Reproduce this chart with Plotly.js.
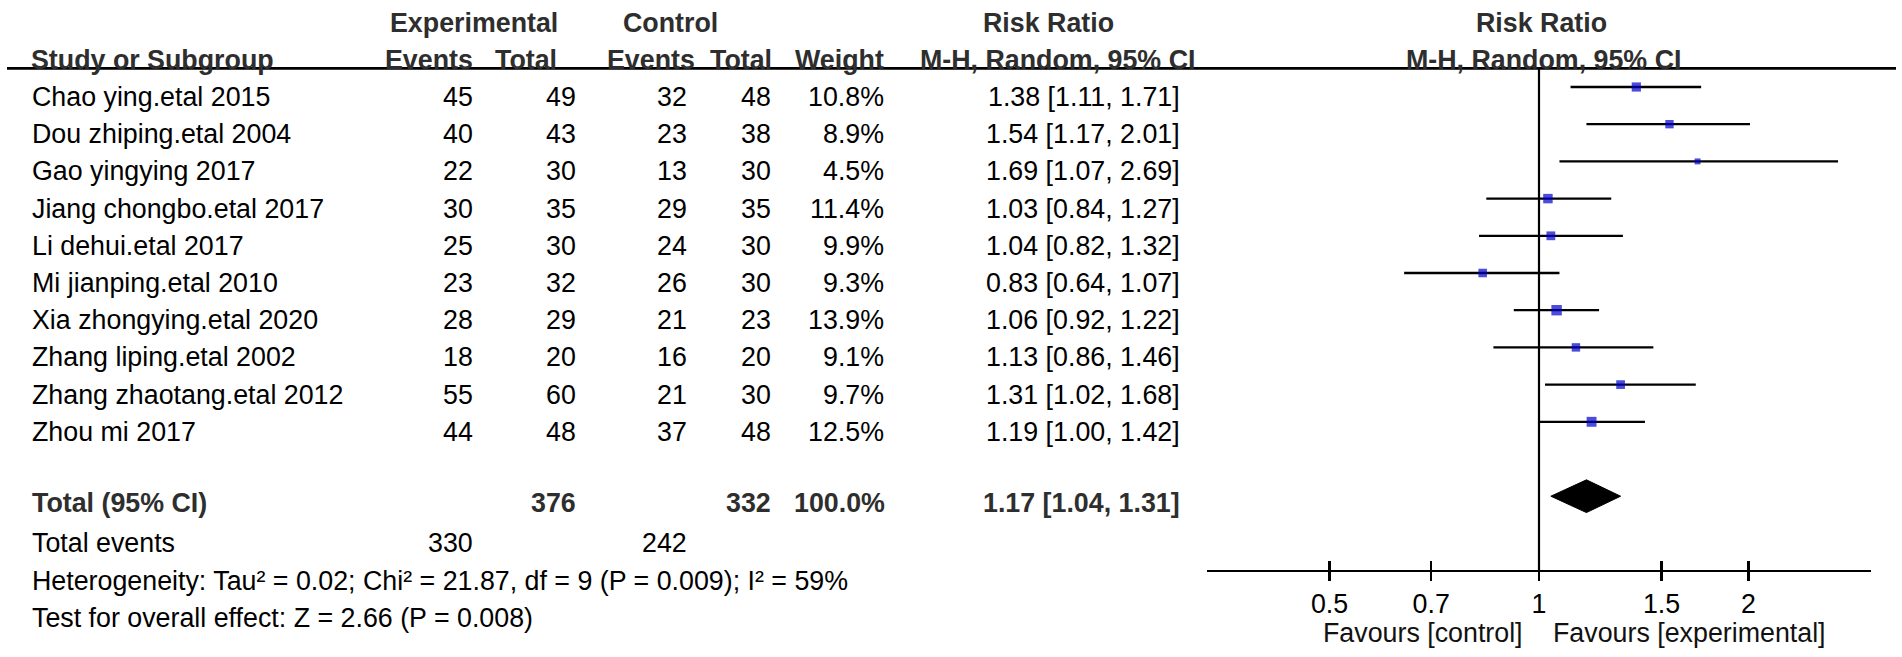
<!DOCTYPE html>
<html>
<head>
<meta charset="utf-8">
<script src="https://cdn.plot.ly/plotly-3.0.1.min.js"></script>
<style>html,body{margin:0;padding:0;background:#fff;}#chart{width:1902px;height:657px;}</style>
</head>
<body>
<div id="chart"></div>
<script>
// ---------------- data ----------------
const studies = ["Chao ying.etal 2015","Dou zhiping.etal 2004","Gao yingying 2017","Jiang chongbo.etal 2017","Li dehui.etal 2017","Mi jianping.etal 2010","Xia zhongying.etal 2020","Zhang liping.etal 2002","Zhang zhaotang.etal 2012","Zhou mi 2017"];
const expEvents = [45,40,22,30,25,23,28,18,55,44];
const expTotal  = [49,43,30,35,30,32,29,20,60,48];
const ctlEvents = [32,23,13,29,24,26,21,16,21,37];
const ctlTotal  = [48,38,30,35,30,30,23,20,30,48];
const weights   = [10.8,8.9,4.5,11.4,9.9,9.3,13.9,9.1,9.7,12.5];
const rr   = [1.38,1.54,1.69,1.03,1.04,0.83,1.06,1.13,1.31,1.19];
const rrLo = [1.11,1.17,1.07,0.84,0.82,0.64,0.92,0.86,1.02,1.00];
const rrHi = [1.71,2.01,2.69,1.27,1.32,1.07,1.22,1.46,1.68,1.42];
const totalExp = 376, totalCtl = 332, totalWeight = 100.0;
const totalRR = 1.17, totalLo = 1.04, totalHi = 1.31;
const totalEventsExp = 330, totalEventsCtl = 242;
const heterogeneityText = "Heterogeneity: Tau² = 0.02; Chi² = 21.87, df = 9 (P = 0.009); I² = 59%";
const overallText = "Test for overall effect: Z = 2.66 (P = 0.008)";
const tickVals = [0.5,0.7,1,1.5,2];
const tickText = ["0.5","0.7","1","1.5","2"];

// ---------------- layout helpers ----------------
const W = 1902, H = 657;
const FONT = "Liberation Sans, Arial, Helvetica, sans-serif";
const FS = 26.8;
const px = v => v / W;
const rows = studies.map((s,i)=>i);
const totalRow = 11, eventsRow = 12, hetRow = 13, testRow = 14;
const fmt2 = v => v.toFixed(2);
const ciText = (e,l,h) => fmt2(e) + " [" + fmt2(l) + ", " + fmt2(h) + "]";

const annotations = [];
function ann(text, x, row, anchor, bold, shift){
  annotations.push({
    text: bold ? "<b>"+text+"</b>" : text,
    xref: "paper", x: px(x), xanchor: anchor,
    yref: "y", y: row, yanchor: "middle", yshift: (shift === undefined ? -10 : shift),
    showarrow: false,
    font: {family: FONT, size: FS, color: bold ? "#2e2e2e" : "#000"}
  });
}
// column right edges / positions (pixels)
const cName = 30, cEE = 475, cET = 578, cCE = 689, cCT = 773, cW = 886, cRR = 1182;

// headers
ann("Experimental", 474, -2, "center", true);
ann("Control", 670, -2, "center", true);
ann("Risk Ratio", 1048, -2, "center", true);
ann("Risk Ratio", 1541, -2, "center", true);
ann("Study or Subgroup", 29, -1, "left", true);
ann("Events", cEE, -1, "right", true);
ann("Total", 559, -1, "right", true);
ann("Events", 697, -1, "right", true);
ann("Total", cCT + 1, -1, "right", true);
ann("Weight", cW, -1, "right", true);
ann("M-H, Random, 95% CI", 1057, -1, "center", true);
ann("M-H, Random, 95% CI", 1543, -1, "center", true);

// study rows
rows.forEach(i=>{
  ann(studies[i], cName, i, "left", false);
  ann(String(expEvents[i]), cEE, i, "right", false);
  ann(String(expTotal[i]), cET, i, "right", false);
  ann(String(ctlEvents[i]), cCE, i, "right", false);
  ann(String(ctlTotal[i]), cCT, i, "right", false);
  ann(weights[i].toFixed(1)+"%", cW, i, "right", false);
  ann(ciText(rr[i], rrLo[i], rrHi[i]), cRR, i, "right", false);
});

// totals
ann("Total (95% CI)", cName, totalRow, "left", true, -7);
ann(String(totalExp), cET, totalRow, "right", true, -7);
ann(String(totalCtl), cCT, totalRow, "right", true, -7);
ann(totalWeight.toFixed(1)+"%", cW + 1, totalRow, "right", true, -7);
ann(ciText(totalRR, totalLo, totalHi), cRR, totalRow, "right", true, -7);
ann("Total events", cName, eventsRow, "left", false);
ann(String(totalEventsExp), cEE, eventsRow, "right", false);
ann(String(totalEventsCtl), cCE, eventsRow, "right", false);
ann(heterogeneityText, cName, hetRow, "left", false);
ann(overallText, cName, testRow, "left", false);

// favours labels
annotations.push({text:"Favours [control]", xref:"paper", x:px(1525), xanchor:"right", yref:"paper", y:1-633/H, yanchor:"middle", showarrow:false, font:{family:FONT,size:FS,color:"#111"}});
annotations.push({text:"Favours [experimental]", xref:"paper", x:px(1551), xanchor:"left", yref:"paper", y:1-633/H, yanchor:"middle", showarrow:false, font:{family:FONT,size:FS,color:"#111"}});

// ---------------- traces ----------------
const ciX = [], ciY = [];
rows.forEach(i=>{ ciX.push(rrLo[i], rrHi[i], null); ciY.push(i, i, null); });
const ciTrace = {type:"scatter", mode:"lines", x:ciX, y:ciY, xaxis:"x", yaxis:"y",
  line:{color:"#000", width:2.3}, hoverinfo:"skip", showlegend:false};
const ptTrace = {type:"scatter", mode:"markers", x:rr, y:rows, xaxis:"x", yaxis:"y",
  marker:{symbol:"square", color:"#0000cc", size:weights.map(w=>Math.sqrt(w)*2.8), line:{width:0}},
  showlegend:false};
const dh = 0.44;
const diamond = {type:"scatter", mode:"lines", fill:"toself", fillcolor:"#000",
  x:[totalLo, totalRR, totalHi, totalRR, totalLo],
  y:[totalRow, totalRow-dh, totalRow, totalRow+dh, totalRow],
  xaxis:"x", yaxis:"y", line:{color:"#000", width:1}, showlegend:false};

// y mapping: row 0 at 87px, 37.2px per row
const y0px = 87, rowPx = 37.2;
const yTop = -y0px/rowPx, yBot = (H - y0px)/rowPx;
const axisRow = 13;
const axisPos = 1 - (y0px + rowPx*axisRow)/H;
const xDomain = [px(1207), px(1871)];
const xRange = [Math.log10(1/3), Math.log10(3)];

const commonX = {type:"log", domain:xDomain, range:xRange, anchor:"free", position:axisPos,
  showgrid:false, zeroline:false, showline:true, linecolor:"#000", linewidth:2.2,
  tickvals:tickVals, ticktext:tickText, tickcolor:"#000", tickwidth:2.2, ticklen:9,
  fixedrange:true};

const layout = {
  width:W, height:H, margin:{l:0,r:0,t:0,b:0},
  paper_bgcolor:"#fff", plot_bgcolor:"rgba(0,0,0,0)",
  showlegend:false,
  xaxis: Object.assign({}, commonX, {ticks:"outside", showticklabels:true,
    tickfont:{family:FONT, size:FS, color:"#000"}}),
  xaxis2: Object.assign({}, commonX, {overlaying:"x", ticks:"inside", showticklabels:false}),
  yaxis:{domain:[0,1], range:[yBot, yTop], visible:false, fixedrange:true},
  shapes:[
    {type:"line", xref:"paper", x0:px(7), x1:px(1896), yref:"y", y0:-0.5, y1:-0.5,
     line:{color:"#000", width:2.6}},
    {type:"line", xref:"x", x0:1, x1:1, yref:"y", y0:-0.5, y1:axisRow,
     line:{color:"#000", width:2.2}}
  ],
  annotations: annotations
};

const dummy2 = {type:"scatter", mode:"markers", x:[1], y:[axisRow], xaxis:"x2", yaxis:"y",
  marker:{opacity:0}, hoverinfo:"skip", showlegend:false};

Plotly.newPlot("chart", [ciTrace, diamond, ptTrace, dummy2], layout, {staticPlot:true, displayModeBar:false});
</script>
</body>
</html>
